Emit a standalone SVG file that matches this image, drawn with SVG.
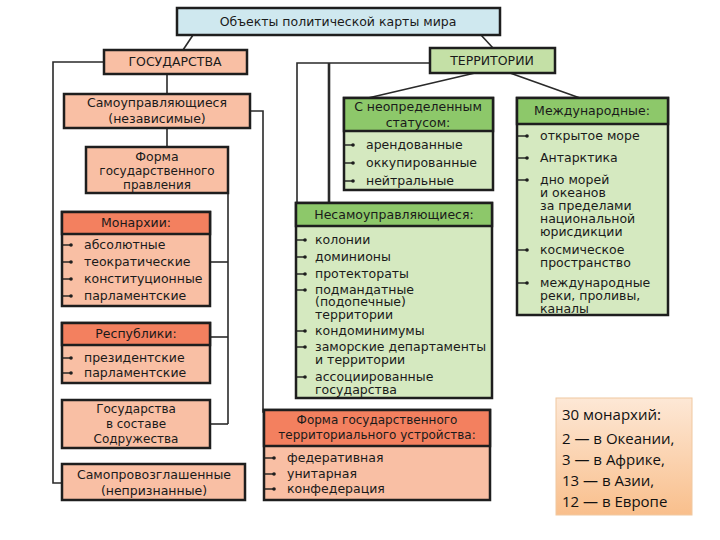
<svg xmlns="http://www.w3.org/2000/svg" width="720" height="540" viewBox="0 0 720 540">
<defs>
<linearGradient id="ng" x1="0" y1="0" x2="0" y2="1">
<stop offset="0" stop-color="#fde8d6"/>
<stop offset="1" stop-color="#f9bf8c"/>
</linearGradient>
<style>
.bx{stroke:#1e1e1e;stroke-width:2.5}
.sal{fill:#f9bfa4}
.hor{fill:#f3805f}
.grn{fill:#d5e9c0}
.hgr{fill:#8dc86a}
.blu{fill:#cfe8ef}
.ln{stroke:#2a2a2a;stroke-width:1.6;fill:none}
.lt{stroke:#2a2a2a;stroke-width:2.6;fill:none}
text{font-family:"DejaVu Sans","Liberation Sans",sans-serif;font-size:12.5px;fill:#1a1a1a}
.c{text-anchor:middle}
.s{font-size:12px}
.b{stroke:#1e1e1e;stroke-width:1.4}
.note{font-family:"Open Sans","Liberation Sans",sans-serif;font-size:15px;fill:#111}
</style>
</defs>
<rect width="720" height="540" fill="#ffffff"/>

<g id="connectors">
<line class="ln" x1="193" y1="35" x2="183" y2="50"/>
<line class="ln" x1="481" y1="35" x2="493" y2="48"/>
<polyline class="ln" points="104,62 53,62 53,483 62,483"/>
<line class="ln" x1="167" y1="74" x2="167" y2="94"/>
<line class="ln" x1="167" y1="128" x2="167" y2="147"/>
<polyline class="ln" points="250,111 263,111 263,412 265,412"/>
<line class="ln" x1="228" y1="193" x2="228" y2="424"/>
<line class="ln" x1="210" y1="262" x2="228" y2="262"/>
<line class="ln" x1="210" y1="337" x2="228" y2="337"/>
<line class="ln" x1="210" y1="424" x2="228" y2="424"/>
<polyline class="ln" points="430,63 297,63 297,203"/>
<line class="lt" x1="329" y1="63" x2="329" y2="203"/>
<line class="ln" x1="475" y1="73" x2="368" y2="98"/>
<line class="ln" x1="510" y1="73" x2="580" y2="98"/>
</g>

<g id="title">
<rect class="bx blu" x="177" y="8" width="323" height="27"/>
<text class="c" x="338" y="26" font-size="13.5">Объекты политической карты мира</text>
</g>

<g id="gosudarstva">
<rect class="bx sal" x="104" y="50" width="143" height="24"/>
<text class="c" x="175" y="66">ГОСУДАРСТВА</text>
</g>

<g id="territorii">
<rect class="bx" fill="#c4e0a6" x="430" y="48" width="125" height="25"/>
<text class="c" x="492" y="65">ТЕРРИТОРИИ</text>
</g>

<g id="samoupr">
<rect class="bx sal" x="64" y="94" width="186" height="34"/>
<text class="c" x="157" y="107">Самоуправляющиеся</text>
<text class="c" x="157" y="123">(независимые)</text>
</g>

<g id="forma-pravleniya">
<rect class="bx sal" x="86" y="147" width="142" height="46"/>
<text class="c" x="157" y="161">Форма</text>
<text class="c s" x="157" y="175">государственного</text>
<text class="c s" x="157" y="189">правления</text>
</g>

<g id="monarhii">
<rect class="bx sal" x="62" y="212" width="148" height="94"/>
<rect class="bx hor" x="62" y="212" width="148" height="22"/>
<text class="c" x="136" y="227">Монархии:</text>
<g class="b"><line x1="63" y1="245" x2="70" y2="245"/><line x1="63" y1="262" x2="70" y2="262"/><line x1="63" y1="279" x2="70" y2="279"/><line x1="63" y1="296" x2="70" y2="296"/></g>
<g fill="#1e1e1e"><circle cx="71" cy="245" r="1.8"/><circle cx="71" cy="262" r="1.8"/><circle cx="71" cy="279" r="1.8"/><circle cx="71" cy="296" r="1.8"/></g>
<text x="84" y="249">абсолютные</text>
<text x="84" y="266">теократические</text>
<text x="84" y="283">конституционные</text>
<text x="84" y="300">парламентские</text>
</g>

<g id="respubliki">
<rect class="bx sal" x="62" y="323" width="148" height="60"/>
<rect class="bx hor" x="62" y="323" width="148" height="22"/>
<text class="c" x="136" y="338">Республики:</text>
<g class="b"><line x1="63" y1="358" x2="70" y2="358"/><line x1="63" y1="373" x2="70" y2="373"/></g>
<g fill="#1e1e1e"><circle cx="71" cy="358" r="1.8"/><circle cx="71" cy="373" r="1.8"/></g>
<text x="84" y="362">президентские</text>
<text x="84" y="377">парламентские</text>
</g>

<g id="sodruzhestvo">
<rect class="bx sal" x="62" y="400" width="148" height="48"/>
<text class="c s" x="136" y="413">Государства</text>
<text class="c s" x="136" y="428">в составе</text>
<text class="c s" x="136" y="443">Содружества</text>
</g>

<g id="samoprovozgl">
<rect class="bx sal" x="62" y="464" width="183" height="36"/>
<text class="c" x="154" y="479">Самопровозглашенные</text>
<text class="c" x="154" y="495">(непризнанные)</text>
</g>

<g id="forma-ustroystva">
<rect class="bx sal" x="264" y="410" width="226" height="90"/>
<rect class="bx hor" x="264" y="410" width="226" height="36"/>
<text class="c s" x="377" y="424">Форма государственного</text>
<text class="c s" x="377" y="439">территориального устройства:</text>
<g class="b"><line x1="265" y1="458" x2="273" y2="458"/><line x1="265" y1="474" x2="273" y2="474"/><line x1="265" y1="489" x2="273" y2="489"/></g>
<g fill="#1e1e1e"><circle cx="274" cy="458" r="1.8"/><circle cx="274" cy="474" r="1.8"/><circle cx="274" cy="489" r="1.8"/></g>
<text x="287" y="462">федеративная</text>
<text x="287" y="478">унитарная</text>
<text x="287" y="493">конфедерация</text>
</g>

<g id="neopredel">
<rect class="bx grn" x="344" y="98" width="149" height="92"/>
<rect class="bx hgr" x="344" y="98" width="149" height="33"/>
<text class="c" x="418" y="111">С неопределенным</text>
<text class="c" x="418" y="127">статусом:</text>
<g class="b"><line x1="345" y1="145" x2="352" y2="145"/><line x1="345" y1="163" x2="352" y2="163"/><line x1="345" y1="181" x2="352" y2="181"/></g>
<g fill="#1e1e1e"><circle cx="353" cy="145" r="1.8"/><circle cx="353" cy="163" r="1.8"/><circle cx="353" cy="181" r="1.8"/></g>
<text x="366" y="149">арендованные</text>
<text x="366" y="167">оккупированные</text>
<text x="366" y="185">нейтральные</text>
</g>

<g id="mezhdunarodnye">
<rect class="bx grn" x="517" y="98" width="151" height="217"/>
<rect class="bx hgr" x="517" y="98" width="151" height="26"/>
<text class="c" x="592" y="115">Международные:</text>
<g class="b"><line x1="518" y1="136" x2="526" y2="136"/><line x1="518" y1="158" x2="526" y2="158"/><line x1="518" y1="180" x2="526" y2="180"/><line x1="518" y1="250" x2="526" y2="250"/><line x1="518" y1="283" x2="526" y2="283"/></g>
<g fill="#1e1e1e"><circle cx="527" cy="136" r="1.8"/><circle cx="527" cy="158" r="1.8"/><circle cx="527" cy="180" r="1.8"/><circle cx="527" cy="250" r="1.8"/><circle cx="527" cy="283" r="1.8"/></g>
<text x="540" y="140">открытое море</text>
<text x="540" y="162">Антарктика</text>
<g class="s">
<text x="540" y="184">дно морей</text>
<text x="540" y="197">и океанов</text>
<text x="540" y="210">за пределами</text>
<text x="540" y="223">национальной</text>
<text x="540" y="236">юрисдикции</text>
<text x="540" y="254">космическое</text>
<text x="540" y="267">пространство</text>
<text x="540" y="287">международные</text>
<text x="540" y="300">реки, проливы,</text>
<text x="540" y="313">каналы</text>
</g>
</g>

<g id="nesamoupr">
<rect class="bx grn" x="296" y="203" width="196" height="195"/>
<rect class="bx hgr" x="296" y="203" width="196" height="23"/>
<text class="c" x="394" y="219">Несамоуправляющиеся:</text>
<g class="b"><line x1="297" y1="240" x2="304" y2="240"/><line x1="297" y1="257" x2="304" y2="257"/><line x1="297" y1="274" x2="304" y2="274"/><line x1="297" y1="290" x2="304" y2="290"/><line x1="297" y1="331" x2="304" y2="331"/><line x1="297" y1="347" x2="304" y2="347"/><line x1="297" y1="377" x2="304" y2="377"/></g>
<g fill="#1e1e1e"><circle cx="305" cy="240" r="1.8"/><circle cx="305" cy="257" r="1.8"/><circle cx="305" cy="274" r="1.8"/><circle cx="305" cy="290" r="1.8"/><circle cx="305" cy="331" r="1.8"/><circle cx="305" cy="347" r="1.8"/><circle cx="305" cy="377" r="1.8"/></g>
<text x="315" y="244">колонии</text>
<text x="315" y="261">доминионы</text>
<text x="315" y="278">протектораты</text>
<g class="s">
<text x="315" y="294">подмандатные</text>
<text x="315" y="306">(подопечные)</text>
<text x="315" y="319">территории</text>
<text x="315" y="335">кондоминимумы</text>
<text x="315" y="351">заморские департаменты</text>
<text x="315" y="364">и территории</text>
<text x="315" y="381">ассоциированные</text>
<text x="315" y="394">государства</text>
</g>
</g>

<g id="note">
<rect x="556" y="398" width="136" height="117" fill="url(#ng)" stroke="#f0c8a0" stroke-width="1"/>
<text class="note" x="562" y="420">30 монархий:</text>
<text class="note" x="562" y="444">2 — в Океании,</text>
<text class="note" x="562" y="465">3 — в Африке,</text>
<text class="note" x="562" y="486">13 — в Азии,</text>
<text class="note" x="562" y="507">12 — в Европе</text>
</g>
</svg>
